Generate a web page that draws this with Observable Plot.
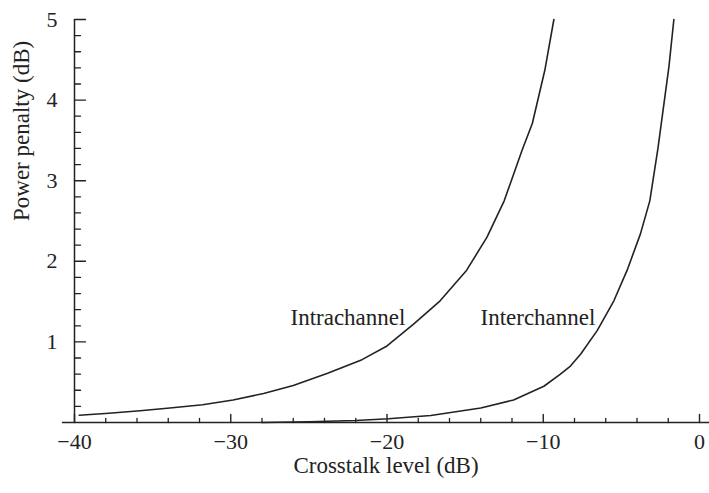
<!DOCTYPE html>
<html>
<head>
<meta charset="utf-8">
<script src="https://cdn.jsdelivr.net/npm/d3@7"></script>
<script src="https://cdn.jsdelivr.net/npm/@observablehq/plot@0.6"></script>
<style>
  html, body { margin: 0; padding: 0; background: #fff; }
  svg { display: block; }
</style>
</head>
<body>
<div id="chart"></div>
<script>
// Intrachannel crosstalk curve
const intraX = [-39.7, -37.8, -35.8, -33.9, -31.8, -29.85, -27.9, -26.0, -23.8, -21.6, -20.0, -18.3, -16.6, -14.9, -13.6, -12.5, -11.35, -10.7, -9.9, -9.32];
const intraY = [0.09, 0.115, 0.145, 0.18, 0.22, 0.28, 0.36, 0.46, 0.61, 0.78, 0.95, 1.22, 1.51, 1.89, 2.30, 2.75, 3.38, 3.71, 4.37, 5.0];
// Interchannel crosstalk curve
const interX = [-28, -25, -22, -19.9, -17.2, -14.0, -11.9, -9.96, -8.9, -8.26, -7.6, -6.55, -5.48, -4.63, -3.78, -3.18, -2.66, -1.96, -1.64];
const interY = [0.0, 0.01, 0.025, 0.046, 0.087, 0.18, 0.28, 0.45, 0.60, 0.70, 0.85, 1.14, 1.51, 1.89, 2.34, 2.75, 3.40, 4.41, 5.0];

const xMajor = [-40, -30, -20, -10, 0];
const xMinor = [-38, -36, -34, -32, -28, -26, -24, -22, -18, -16, -14, -12, -8, -6, -4, -2];
const yMajor = [1, 2, 3, 4, 5];
const yMinor = [0.2, 0.4, 0.6, 0.8, 1.2, 1.4, 1.6, 1.8, 2.2, 2.4, 2.6, 2.8, 3.2, 3.4, 3.6, 3.8, 4.2, 4.4, 4.6, 4.8];

const labels = [
  {x: -22.5, y: 1.30, text: "Intrachannel"},
  {x: -10.34, y: 1.30, text: "Interchannel"}
];
const xTitle = "Crosstalk level (dB)";
const yTitle = "Power penalty (dB)";

const intra = intraX.map((x, i) => ({x, y: intraY[i]}));
const inter = interX.map((x, i) => ({x, y: interY[i]}));

const ink = "#222";
const font = "Liberation Serif, Times New Roman, serif";
const W = 709, H = 493, mL = 74, mR = 0, mT = 19, mB = 71;
const xDom = [-40, 0.64], yDom = [0, 5];
const frameW = W - mL - mR, frameH = H - mT - mB;
const pxX = (xDom[1] - xDom[0]) / frameW;   // data units per pixel
const pxY = (yDom[1] - yDom[0]) / frameH;

// inward tick segments (two end points per tick, grouped by id)
const xTickSegs = (vals, len) => vals.flatMap(v => [{x: v, y: 0, id: "x" + v}, {x: v, y: len * pxY, id: "x" + v}]);
const yTickSegs = (vals, len) => vals.flatMap(v => [{x: -40, y: v, id: "y" + v}, {x: -40 + len * pxX, y: v, id: "y" + v}]);

const chart = Plot.plot({
  width: W,
  height: H,
  marginLeft: mL,
  marginRight: mR,
  marginTop: mT,
  marginBottom: mB,
  style: {fontFamily: font, fontSize: "22px", color: ink, background: "#fff"},
  x: {domain: xDom, axis: null},
  y: {domain: yDom, axis: null},
  marks: [
    Plot.ruleY([0], {x1: -40.77, x2: xDom[1], stroke: ink, strokeWidth: 1.5}),
    Plot.ruleX([-40], {y1: 0, y2: 5, stroke: ink, strokeWidth: 1.5}),
    Plot.line(xTickSegs(xMajor, 8), {x: "x", y: "y", z: "id", stroke: ink, strokeWidth: 1.4}),
    Plot.line(xTickSegs(xMinor, 4), {x: "x", y: "y", z: "id", stroke: ink, strokeWidth: 1.3}),
    Plot.line(yTickSegs(yMajor, 11), {x: "x", y: "y", z: "id", stroke: ink, strokeWidth: 1.4}),
    Plot.line(yTickSegs(yMinor, 6), {x: "x", y: "y", z: "id", stroke: ink, strokeWidth: 1.3}),
    // tick labels
    Plot.axisX(xMajor, {anchor: "bottom", tickSize: 0, tickPadding: 11, fill: ink, fontSize: 22, label: null}),
    Plot.axisY(yMajor, {anchor: "left", tickSize: 0, tickPadding: 17, tickFormat: d3.format("d"), fill: ink, fontSize: 22, label: null}),
    Plot.line(intra, {x: "x", y: "y", stroke: ink, strokeWidth: 1.6}),
    Plot.line(inter, {x: "x", y: "y", stroke: ink, strokeWidth: 1.6}),
    Plot.text(labels, {x: "x", y: "y", text: "text", fontSize: 23, fill: ink}),
    Plot.text([xTitle], {frameAnchor: "bottom", dy: 50, dx: -6, fontSize: 23, fill: ink}),
    Plot.text([yTitle], {frameAnchor: "left", rotate: -90, dx: -53, fontSize: 23, fill: ink})
  ]
});
document.getElementById("chart").appendChild(chart);
</script>
</body>
</html>
